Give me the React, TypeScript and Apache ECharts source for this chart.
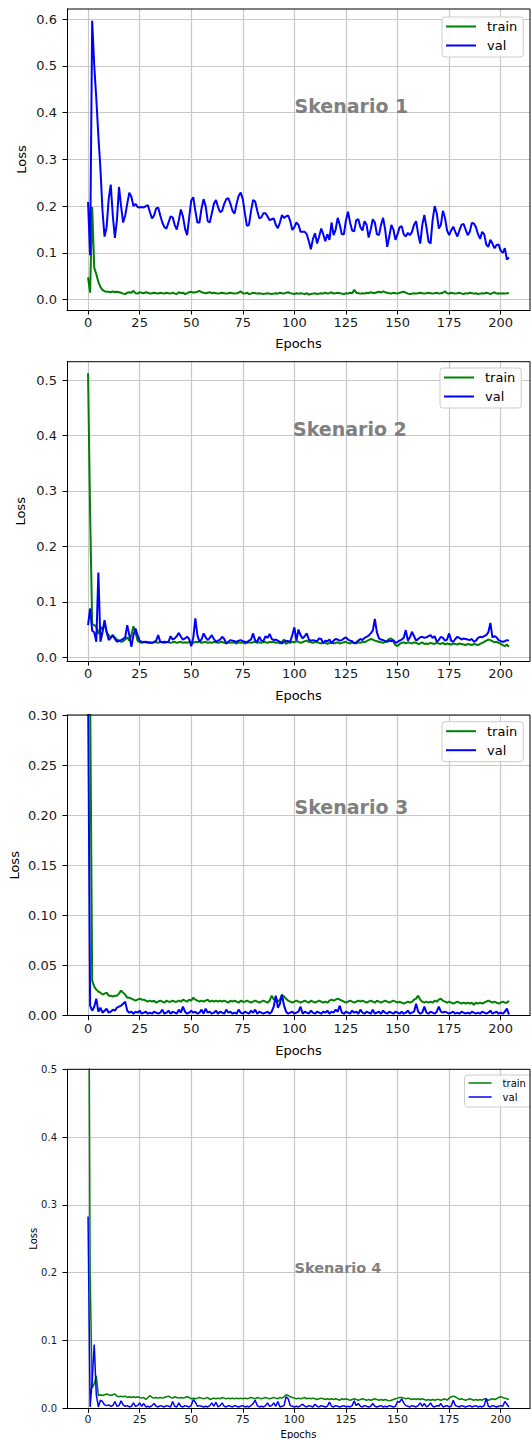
import React, { useEffect, useRef } from 'react';
import * as echarts from 'echarts';

// ---------- data ----------
const EPOCHS: number[] = Array.from({ length: 205 }, (_, i) => i);
const X_TICKS = [0, 25, 50, 75, 100, 125, 150, 175, 200];
const Y1_TICKS = [0, 0.1, 0.2, 0.3, 0.4, 0.5, 0.6];
const Y2_TICKS = [0, 0.1, 0.2, 0.3, 0.4, 0.5];
const Y3_TICKS = [0, 0.05, 0.1, 0.15, 0.2, 0.25, 0.3];
const Y4_TICKS = [0, 0.1, 0.2, 0.3, 0.4, 0.5];
const SERIES_NAMES = ['train', 'val'];
const TITLES = ['Skenario 1', 'Skenario 2', 'Skenario 3', 'Skenario 4'];

const S1_TRAIN = [
  0.048, 0.015, 0.198, 0.068, 0.055, 0.038, 0.027, 0.021, 0.018, 0.017,
  0.017, 0.016, 0.018, 0.016, 0.017, 0.016, 0.015, 0.013, 0.012, 0.015,
  0.016, 0.015, 0.019, 0.014, 0.013, 0.016, 0.015, 0.014, 0.016, 0.015,
  0.013, 0.014, 0.015, 0.014, 0.013, 0.015, 0.014, 0.013, 0.015, 0.014,
  0.013, 0.015, 0.013, 0.012, 0.016, 0.014, 0.015, 0.012, 0.014, 0.016,
  0.017, 0.015, 0.016, 0.017, 0.019, 0.016, 0.015, 0.014, 0.015, 0.016,
  0.014, 0.015, 0.014, 0.013, 0.014, 0.015, 0.014, 0.013, 0.014, 0.015,
  0.014, 0.013, 0.014, 0.015, 0.018, 0.014, 0.013, 0.015, 0.012, 0.013,
  0.015, 0.014, 0.013, 0.014, 0.013, 0.012, 0.013, 0.014, 0.013, 0.012,
  0.013, 0.014, 0.013, 0.015, 0.014, 0.013, 0.015, 0.016, 0.014, 0.013,
  0.012, 0.014, 0.013, 0.014, 0.013, 0.012, 0.014, 0.011, 0.012, 0.013,
  0.014, 0.012, 0.013, 0.014, 0.013, 0.015, 0.013, 0.014, 0.016, 0.013,
  0.014, 0.015, 0.014, 0.013, 0.012, 0.014, 0.013, 0.015, 0.014, 0.021,
  0.015, 0.014, 0.013, 0.014, 0.013, 0.015, 0.014, 0.016, 0.015, 0.014,
  0.016, 0.017, 0.015, 0.018, 0.016, 0.015, 0.014, 0.013, 0.015, 0.014,
  0.013, 0.015, 0.016, 0.017, 0.015, 0.013, 0.012, 0.013, 0.014, 0.013,
  0.014, 0.015, 0.014, 0.013, 0.014, 0.015, 0.014, 0.013, 0.014, 0.015,
  0.013, 0.014, 0.015, 0.018, 0.014, 0.013, 0.015, 0.014, 0.013, 0.014,
  0.015, 0.013, 0.012, 0.014, 0.013, 0.015, 0.014, 0.013, 0.014, 0.012,
  0.013, 0.014, 0.013, 0.015, 0.014, 0.012, 0.014, 0.016, 0.013, 0.014,
  0.013, 0.014, 0.013, 0.014, 0.014,
];
const S1_VAL = [
  0.209, 0.095, 0.596, 0.500, 0.430, 0.350, 0.280, 0.190, 0.135, 0.155,
  0.215, 0.246, 0.180, 0.132, 0.170, 0.241, 0.200, 0.165, 0.180, 0.205,
  0.229, 0.220, 0.200, 0.205, 0.198, 0.197, 0.198, 0.197, 0.200, 0.202,
  0.187, 0.174, 0.180, 0.195, 0.197, 0.180, 0.165, 0.155, 0.152, 0.165,
  0.178, 0.176, 0.160, 0.150, 0.170, 0.193, 0.178, 0.152, 0.138, 0.175,
  0.212, 0.219, 0.190, 0.165, 0.165, 0.195, 0.215, 0.200, 0.168, 0.165,
  0.185, 0.205, 0.213, 0.198, 0.187, 0.190, 0.205, 0.215, 0.217, 0.205,
  0.190, 0.184, 0.205, 0.222, 0.229, 0.215, 0.185, 0.158, 0.160, 0.190,
  0.213, 0.210, 0.190, 0.174, 0.176, 0.185, 0.185, 0.178, 0.170, 0.172,
  0.174, 0.160, 0.153, 0.165, 0.181, 0.175, 0.178, 0.180, 0.168, 0.149,
  0.155, 0.165, 0.160, 0.145, 0.145, 0.145, 0.140, 0.125, 0.108, 0.130,
  0.142, 0.120, 0.135, 0.152, 0.140, 0.125, 0.140, 0.128, 0.165, 0.138,
  0.150, 0.175, 0.160, 0.140, 0.140, 0.170, 0.188, 0.165, 0.148, 0.146,
  0.170, 0.172, 0.155, 0.148, 0.168, 0.160, 0.133, 0.150, 0.172, 0.165,
  0.140, 0.138, 0.160, 0.175, 0.150, 0.113, 0.135, 0.160, 0.150, 0.128,
  0.140, 0.155, 0.157, 0.140, 0.135, 0.143, 0.138, 0.145, 0.160, 0.168,
  0.140, 0.120, 0.160, 0.181, 0.155, 0.125, 0.120, 0.170, 0.200, 0.185,
  0.152, 0.160, 0.190, 0.175, 0.148, 0.138, 0.148, 0.156, 0.145, 0.135,
  0.148, 0.160, 0.162, 0.150, 0.138, 0.145, 0.164, 0.163, 0.155, 0.140,
  0.130, 0.145, 0.140, 0.118, 0.113, 0.128, 0.120, 0.110, 0.117, 0.118,
  0.105, 0.100, 0.110, 0.086, 0.090,
];
const S2_TRAIN = [
  0.512, 0.260, 0.060, 0.058, 0.055, 0.042, 0.055, 0.050, 0.060, 0.045,
  0.040, 0.035, 0.040, 0.036, 0.032, 0.030, 0.028, 0.029, 0.032, 0.036,
  0.030, 0.040, 0.056, 0.045, 0.030, 0.027, 0.026, 0.028, 0.027, 0.026,
  0.027, 0.026, 0.028, 0.027, 0.026, 0.028, 0.027, 0.026, 0.028, 0.027,
  0.026, 0.027, 0.028, 0.026, 0.027, 0.028, 0.026, 0.027, 0.026, 0.028,
  0.027, 0.026, 0.028, 0.027, 0.029, 0.026, 0.027, 0.028, 0.026, 0.027,
  0.026, 0.028, 0.027, 0.026, 0.027, 0.028, 0.026, 0.025, 0.027, 0.026,
  0.027, 0.026, 0.025, 0.027, 0.026, 0.027, 0.025, 0.026, 0.027, 0.026,
  0.027, 0.028, 0.026, 0.027, 0.026, 0.028, 0.027, 0.026, 0.028, 0.027,
  0.028, 0.026, 0.027, 0.025, 0.028, 0.032, 0.024, 0.027, 0.026, 0.028,
  0.027, 0.029, 0.028, 0.026, 0.027, 0.029, 0.030, 0.028, 0.027, 0.026,
  0.028, 0.027, 0.026, 0.025, 0.027, 0.026, 0.024, 0.026, 0.027, 0.025,
  0.026, 0.027, 0.025, 0.026, 0.027, 0.028, 0.026, 0.025, 0.027, 0.026,
  0.025, 0.027, 0.026, 0.028, 0.027, 0.029, 0.031, 0.033, 0.032, 0.030,
  0.029, 0.028, 0.027, 0.026, 0.028, 0.030, 0.033, 0.034, 0.028, 0.022,
  0.020, 0.024, 0.026, 0.027, 0.025, 0.027, 0.026, 0.025, 0.027, 0.026,
  0.024, 0.025, 0.027, 0.024, 0.025, 0.024, 0.026, 0.025, 0.024, 0.026,
  0.025, 0.024, 0.026, 0.023, 0.025, 0.024, 0.023, 0.025, 0.024, 0.023,
  0.025, 0.024, 0.023, 0.022, 0.024, 0.023, 0.022, 0.024, 0.023, 0.022,
  0.024, 0.026, 0.028, 0.030, 0.032, 0.031, 0.029, 0.027, 0.028, 0.026,
  0.024, 0.022, 0.020, 0.023, 0.019,
];
const S2_VAL = [
  0.058, 0.088, 0.048, 0.045, 0.028, 0.153, 0.028, 0.045, 0.067, 0.046,
  0.031, 0.035, 0.040, 0.033, 0.028, 0.030, 0.031, 0.033, 0.036, 0.058,
  0.040, 0.019, 0.040, 0.052, 0.040, 0.030, 0.028, 0.027, 0.028, 0.027,
  0.026, 0.026, 0.027, 0.030, 0.040, 0.028, 0.027, 0.028, 0.027, 0.028,
  0.038, 0.032, 0.034, 0.038, 0.044, 0.037, 0.032, 0.034, 0.037, 0.033,
  0.020, 0.035, 0.070, 0.040, 0.028, 0.032, 0.043, 0.036, 0.031, 0.035,
  0.040, 0.033, 0.028, 0.030, 0.032, 0.037, 0.033, 0.025, 0.028, 0.031,
  0.030, 0.029, 0.028, 0.030, 0.031, 0.029, 0.028, 0.027, 0.030, 0.032,
  0.043, 0.030, 0.028, 0.037, 0.030, 0.029, 0.038, 0.035, 0.042, 0.033,
  0.031, 0.032, 0.030, 0.028, 0.025, 0.028, 0.030, 0.029, 0.028, 0.040,
  0.054, 0.030, 0.050, 0.040, 0.034, 0.038, 0.043, 0.032, 0.030, 0.031,
  0.030, 0.029, 0.034, 0.033, 0.025, 0.030, 0.029, 0.032, 0.025, 0.030,
  0.033, 0.032, 0.030, 0.031, 0.034, 0.036, 0.032, 0.030, 0.029, 0.025,
  0.027, 0.030, 0.033, 0.031, 0.035, 0.037, 0.039, 0.043, 0.048, 0.069,
  0.045, 0.034, 0.032, 0.031, 0.029, 0.028, 0.030, 0.029, 0.031, 0.026,
  0.028, 0.030, 0.032, 0.035, 0.049, 0.030, 0.036, 0.046, 0.038, 0.030,
  0.033, 0.036, 0.037, 0.035, 0.036, 0.038, 0.040, 0.035, 0.038, 0.028,
  0.031, 0.037, 0.035, 0.030, 0.032, 0.043, 0.030, 0.028, 0.033, 0.037,
  0.035, 0.032, 0.034, 0.033, 0.032, 0.031, 0.033, 0.028, 0.030, 0.035,
  0.037, 0.036, 0.038, 0.040, 0.045, 0.062, 0.036, 0.038, 0.036, 0.031,
  0.029, 0.028, 0.029, 0.031, 0.030,
];
const S3_TRAIN = [
  0.600, 0.330, 0.035, 0.029, 0.026, 0.024, 0.023, 0.021, 0.022, 0.023,
  0.020, 0.020, 0.019, 0.020, 0.020, 0.022, 0.025, 0.023, 0.021, 0.018,
  0.018, 0.017, 0.016, 0.015, 0.016, 0.017, 0.016, 0.016, 0.015, 0.014,
  0.015, 0.014, 0.015, 0.013, 0.014, 0.015, 0.014, 0.013, 0.015, 0.014,
  0.014, 0.015, 0.014, 0.014, 0.015, 0.014, 0.016, 0.015, 0.014, 0.016,
  0.015, 0.018, 0.016, 0.015, 0.014, 0.015, 0.014, 0.015, 0.016, 0.014,
  0.015, 0.014, 0.015, 0.014, 0.015, 0.014, 0.015, 0.014, 0.013, 0.015,
  0.014, 0.015, 0.014, 0.013, 0.015, 0.014, 0.014, 0.015, 0.014, 0.013,
  0.014, 0.015, 0.014, 0.013, 0.014, 0.015, 0.014, 0.013, 0.015, 0.020,
  0.016, 0.018, 0.014, 0.016, 0.021, 0.019, 0.017, 0.015, 0.014, 0.013,
  0.014, 0.015, 0.014, 0.013, 0.014, 0.015, 0.014, 0.013, 0.015, 0.014,
  0.013, 0.014, 0.015, 0.014, 0.013, 0.014, 0.013, 0.015, 0.016, 0.015,
  0.016, 0.017, 0.016, 0.015, 0.014, 0.013, 0.014, 0.015, 0.014, 0.013,
  0.014, 0.015, 0.014, 0.015, 0.014, 0.013, 0.014, 0.015, 0.014, 0.013,
  0.015, 0.014, 0.013, 0.014, 0.015, 0.014, 0.013, 0.014, 0.015, 0.014,
  0.013, 0.014, 0.013, 0.012, 0.013, 0.014, 0.013, 0.014, 0.016, 0.017,
  0.020, 0.016, 0.014, 0.013, 0.014, 0.013, 0.014, 0.013, 0.015, 0.014,
  0.016, 0.017, 0.015, 0.014, 0.013, 0.014, 0.013, 0.012, 0.013, 0.014,
  0.013, 0.012, 0.013, 0.012, 0.013, 0.012, 0.013, 0.011, 0.013, 0.012,
  0.013, 0.012, 0.013, 0.014, 0.015, 0.014, 0.013, 0.014, 0.013, 0.012,
  0.013, 0.014, 0.013, 0.013, 0.015,
];
const S3_VAL = [
  0.330, 0.010, 0.005, 0.009, 0.017, 0.004, 0.008, 0.003, 0.005, 0.007,
  0.003, 0.004, 0.006, 0.005, 0.008, 0.009, 0.010, 0.012, 0.014, 0.005,
  0.003, 0.004, 0.002, 0.004, 0.003, 0.005, 0.002, 0.003, 0.004, 0.002,
  0.003, 0.002, 0.004, 0.003, 0.002, 0.003, 0.006, 0.002, 0.003, 0.005,
  0.002, 0.004, 0.003, 0.002, 0.006, 0.003, 0.009, 0.004, 0.002, 0.003,
  0.005, 0.003, 0.004, 0.002, 0.003, 0.006, 0.002, 0.007, 0.003, 0.004,
  0.002, 0.003, 0.005, 0.002, 0.004, 0.003, 0.002, 0.006, 0.003, 0.004,
  0.002, 0.003, 0.002, 0.006, 0.003, 0.002, 0.004, 0.003, 0.002, 0.005,
  0.003, 0.006, 0.002, 0.004, 0.003, 0.002, 0.003, 0.004, 0.002, 0.004,
  0.009, 0.020, 0.008, 0.012, 0.021, 0.010, 0.004, 0.002, 0.003, 0.004,
  0.002, 0.003, 0.004, 0.009, 0.002, 0.004, 0.003, 0.002, 0.005, 0.003,
  0.002, 0.004, 0.003, 0.002, 0.004, 0.003, 0.005, 0.002, 0.004, 0.003,
  0.006, 0.004, 0.010, 0.003, 0.002, 0.004, 0.003, 0.002, 0.005, 0.003,
  0.004, 0.002, 0.006, 0.003, 0.002, 0.004, 0.003, 0.002, 0.006, 0.002,
  0.003, 0.004, 0.002, 0.005, 0.003, 0.002, 0.004, 0.003, 0.002, 0.004,
  0.003, 0.002, 0.004, 0.002, 0.003, 0.005, 0.002, 0.003, 0.004, 0.012,
  0.004, 0.002, 0.003, 0.009, 0.003, 0.002, 0.004, 0.003, 0.002, 0.004,
  0.009, 0.004, 0.003, 0.004, 0.003, 0.002, 0.003, 0.004, 0.002, 0.003,
  0.002, 0.004, 0.003, 0.002, 0.003, 0.002, 0.004, 0.003, 0.002, 0.003,
  0.002, 0.004, 0.003, 0.002, 0.003, 0.005, 0.002, 0.003, 0.004, 0.002,
  0.003, 0.002, 0.004, 0.007, 0.001,
];
const S4_TRAIN = [
  0.950, 0.200, 0.030, 0.036, 0.048, 0.019, 0.020, 0.019, 0.020, 0.021,
  0.020, 0.019, 0.020, 0.021, 0.018, 0.017, 0.018, 0.017, 0.018, 0.016,
  0.017, 0.016, 0.017, 0.016, 0.017, 0.016, 0.015, 0.016, 0.013, 0.016,
  0.019, 0.016, 0.015, 0.016, 0.015, 0.016, 0.015, 0.016, 0.017, 0.018,
  0.016, 0.015, 0.017, 0.016, 0.015, 0.016, 0.015, 0.016, 0.017, 0.016,
  0.014, 0.015, 0.014, 0.015, 0.016, 0.015, 0.014, 0.015, 0.016, 0.013,
  0.014, 0.015, 0.014, 0.015, 0.014, 0.016, 0.015, 0.014, 0.015, 0.014,
  0.015, 0.014, 0.015, 0.014, 0.015, 0.014, 0.015, 0.014, 0.015, 0.016,
  0.015, 0.014, 0.016, 0.015, 0.014, 0.015, 0.016, 0.015, 0.014, 0.015,
  0.016, 0.015, 0.014, 0.016, 0.015, 0.017, 0.020, 0.019, 0.017, 0.016,
  0.015, 0.014, 0.015, 0.014, 0.015, 0.016, 0.014, 0.015, 0.014, 0.015,
  0.014, 0.013, 0.014, 0.015, 0.014, 0.013, 0.014, 0.013, 0.014, 0.013,
  0.014, 0.013, 0.012, 0.014, 0.013, 0.014, 0.013, 0.012, 0.013, 0.014,
  0.013, 0.012, 0.013, 0.014, 0.013, 0.012, 0.013, 0.012, 0.013, 0.014,
  0.013, 0.012, 0.013, 0.012, 0.013, 0.012, 0.011, 0.012, 0.013, 0.014,
  0.015, 0.016, 0.016, 0.015, 0.014, 0.015, 0.014, 0.013, 0.014, 0.013,
  0.014, 0.013, 0.014, 0.013, 0.012, 0.013, 0.012, 0.013, 0.012, 0.013,
  0.013, 0.012, 0.013, 0.014, 0.012, 0.015, 0.017, 0.018, 0.017, 0.015,
  0.013, 0.014, 0.013, 0.012, 0.013, 0.014, 0.013, 0.012, 0.013, 0.012,
  0.013, 0.012, 0.014, 0.013, 0.012, 0.013, 0.014, 0.013, 0.014, 0.016,
  0.017, 0.016, 0.015, 0.014, 0.013,
];
const S4_VAL = [
  0.283, 0.002, 0.040, 0.094, 0.020, 0.002, 0.012, 0.010, 0.005, 0.004,
  0.005, 0.003, 0.004, 0.010, 0.003, 0.004, 0.011, 0.005, 0.003, 0.004,
  0.002, 0.003, 0.008, 0.003, 0.004, 0.008, 0.003, 0.007, 0.002, 0.003,
  0.002, 0.004, 0.007, 0.003, 0.002, 0.004, 0.003, 0.002, 0.004, 0.003,
  0.002, 0.010, 0.003, 0.002, 0.008, 0.003, 0.002, 0.004, 0.003, 0.002,
  0.004, 0.013, 0.009, 0.003, 0.004, 0.003, 0.002, 0.003, 0.002, 0.004,
  0.008, 0.003, 0.009, 0.002, 0.004, 0.008, 0.003, 0.002, 0.004, 0.003,
  0.002, 0.004, 0.003, 0.002, 0.003, 0.004, 0.002, 0.003, 0.002, 0.004,
  0.007, 0.012, 0.004, 0.002, 0.003, 0.002, 0.004, 0.008, 0.003, 0.004,
  0.008, 0.003, 0.010, 0.002, 0.003, 0.004, 0.017, 0.014, 0.004, 0.003,
  0.002, 0.003, 0.002, 0.004, 0.006, 0.003, 0.002, 0.004, 0.003, 0.002,
  0.006, 0.003, 0.002, 0.004, 0.003, 0.002, 0.003, 0.009, 0.003, 0.002,
  0.004, 0.003, 0.002, 0.003, 0.004, 0.002, 0.003, 0.002, 0.004, 0.011,
  0.004, 0.007, 0.003, 0.002, 0.004, 0.003, 0.002, 0.003, 0.007, 0.003,
  0.002, 0.003, 0.004, 0.002, 0.003, 0.002, 0.004, 0.003, 0.002, 0.003,
  0.010, 0.009, 0.014, 0.008, 0.004, 0.003, 0.002, 0.004, 0.003, 0.002,
  0.004, 0.008, 0.003, 0.007, 0.002, 0.004, 0.008, 0.003, 0.002, 0.004,
  0.003, 0.007, 0.002, 0.003, 0.004, 0.002, 0.003, 0.012, 0.004, 0.003,
  0.002, 0.004, 0.003, 0.002, 0.003, 0.004, 0.002, 0.003, 0.004, 0.002,
  0.003, 0.002, 0.004, 0.015, 0.003, 0.002, 0.004, 0.003, 0.002, 0.003,
  0.004, 0.003, 0.010, 0.006, 0.002,
];

// ---------- layout (positions / styles) ----------
const FONT = '"DejaVu Sans", Verdana, sans-serif';
const GREEN = '#008000';
const BLUE = '#0000ff';
const GRID_LEFT = 67;
const GRID_RIGHT = 530;

const PANELS = [
  {
    train: S1_TRAIN, val: S1_VAL, yTicks: Y1_TICKS, dec: 1,
    top: 9, height: 301, yMin: -0.022, yMax: 0.6214,
    tickFont: 13, yTickFont: 13, nameFont: 13, legendFont: 13, lw: 2,
    yNameGap: 39, xNameGap: 27, legendLeft: 442, legendTop: 17, legendLine: 30,
    legendGap: 6, titleX: 294.5, titleY: 106, titleFont: 19,
  },
  {
    train: S2_TRAIN, val: S2_VAL, yTicks: Y2_TICKS, dec: 1,
    top: 361.7, height: 299.3, yMin: -0.0067, yMax: 0.533,
    tickFont: 13, yTickFont: 13, nameFont: 13, legendFont: 13, lw: 2,
    yNameGap: 40, xNameGap: 28, legendLeft: 440, legendTop: 368, legendLine: 30,
    legendGap: 6, titleX: 293, titleY: 429, titleFont: 19,
  },
  {
    train: S3_TRAIN, val: S3_VAL, yTicks: Y3_TICKS, dec: 2,
    top: 715, height: 300.7, yMin: 0, yMax: 0.3,
    tickFont: 13, yTickFont: 13, nameFont: 13, legendFont: 13, lw: 2,
    yNameGap: 46, xNameGap: 28, legendLeft: 442, legendTop: 721.7, legendLine: 30,
    legendGap: 6, titleX: 294.5, titleY: 807.3, titleFont: 19,
  },
  {
    train: S4_TRAIN, val: S4_VAL, yTicks: Y4_TICKS, dec: 1,
    top: 1069.3, height: 339, yMin: 0, yMax: 0.5,
    tickFont: 11, yTickFont: 10, nameFont: 10, legendFont: 10, lw: 1.5,
    yNameGap: 29, xNameGap: 21, legendLeft: 464.6, legendTop: 1075, legendLine: 23,
    legendGap: 4, titleX: 294.5, titleY: 1267.7, titleFont: 14.5,
  },
];

function buildOption() {
  const grid = PANELS.map((p) => ({
    left: GRID_LEFT, width: GRID_RIGHT - GRID_LEFT, top: p.top, height: p.height,
    show: false, containLabel: false, outerBoundsMode: 'none',
  }));
  const xAxis = PANELS.map((p, i) => ({
    type: 'value', gridIndex: i, min: -10.2, max: 214.2,
    name: 'Epochs', nameLocation: 'middle', nameGap: p.xNameGap, nameMoveOverlap: false,
    nameTextStyle: { fontSize: p.nameFont, color: '#000', fontFamily: FONT },
    axisLine: { show: true, onZero: false, lineStyle: { color: '#000', width: 1 } },
    axisTick: { show: true, inside: false, length: 4.5, customValues: X_TICKS, lineStyle: { color: '#000', width: 1 } },
    axisLabel: {
      customValues: X_TICKS, margin: 6, fontSize: p.tickFont, color: '#1a1a1a', fontFamily: FONT,
      formatter: (v: number) => String(Math.round(v)),
    },
    splitLine: { show: true, lineStyle: { color: '#c8c8c8', width: 1.2 } },
  }));
  const yAxis = PANELS.map((p, i) => ({
    type: 'value', gridIndex: i, min: p.yMin, max: p.yMax,
    name: 'Loss', nameLocation: 'middle', nameRotate: 90, nameGap: p.yNameGap, nameMoveOverlap: false,
    nameTextStyle: { fontSize: p.nameFont, color: '#000', fontFamily: FONT },
    axisLine: { show: true, onZero: false, lineStyle: { color: '#000', width: 1 } },
    axisTick: { show: true, inside: false, length: 4.5, customValues: p.yTicks, lineStyle: { color: '#000', width: 1 } },
    axisLabel: {
      customValues: p.yTicks, margin: 10, fontSize: p.yTickFont, color: '#1a1a1a', fontFamily: FONT,
      formatter: (v: number) => v.toFixed(p.dec),
    },
    splitLine: { show: true, lineStyle: { color: '#c8c8c8', width: 1.2 } },
  }));
  const series: any[] = [];
  PANELS.forEach((p, i) => {
    [p.train, p.val].forEach((arr, k) => {
      series.push({
        type: 'line', name: SERIES_NAMES[k], xAxisIndex: i, yAxisIndex: i,
        data: EPOCHS.map((e) => [e, arr[e]]),
        showSymbol: false, symbol: 'none', clip: true, z: 3 + k,
        color: k === 0 ? GREEN : BLUE,
        lineStyle: { color: k === 0 ? GREEN : BLUE, width: p.lw },
      });
    });
  });
  const legend = PANELS.map((p) => ({
    orient: 'vertical', left: p.legendLeft, top: p.legendTop,
    data: SERIES_NAMES, icon: 'rect', itemWidth: p.legendLine, itemHeight: p.lw,
    itemGap: p.legendGap, padding: [3, 6, 5, 4], selectedMode: false,
    borderColor: '#cccccc', borderWidth: 1, borderRadius: 3,
    backgroundColor: 'rgba(255,255,255,0.85)',
    textStyle: { fontSize: p.legendFont, color: '#000', fontFamily: FONT, padding: [0, 0, 0, 6] },
  }));
  const graphic: any[] = [];
  PANELS.forEach((p, i) => {
    graphic.push({
      type: 'polyline', z: 5, silent: true,
      shape: { points: [[GRID_LEFT, p.top], [GRID_RIGHT, p.top], [GRID_RIGHT, p.top + p.height]] },
      style: { stroke: '#000', lineWidth: 1, fill: null },
    });
    graphic.push({
      type: 'text', x: p.titleX, y: p.titleY, z: 10, silent: true,
      style: {
        text: TITLES[i], fill: '#808080', font: `bold ${p.titleFont}px ${FONT}`,
        textVerticalAlign: 'middle', verticalAlign: 'middle', textAlign: 'left', align: 'left',
      },
    });
  });
  graphic.push({
    type: 'rect', shape: { x: 0, y: 703, width: 64, height: 7.5 }, z: 20, silent: true,
    style: { fill: '#ffffff' },
  });
  return {
    animation: false,
    backgroundColor: '#ffffff',
    textStyle: { fontFamily: FONT },
    grid, xAxis, yAxis, series, legend, graphic,
  };
}

export default function App() {
  const ref = useRef<HTMLDivElement>(null);
  useEffect(() => {
    if (!ref.current) return;
    const chart = echarts.init(ref.current, undefined, { renderer: 'svg' });
    chart.setOption(buildOption() as any);
    return () => chart.dispose();
  }, []);
  return (
    <div style={{ position: 'absolute', left: 0, top: 0, width: 531, height: 1439, background: '#fff' }}>
      <div ref={ref} style={{ width: 531, height: 1439 }} />
    </div>
  );
}
